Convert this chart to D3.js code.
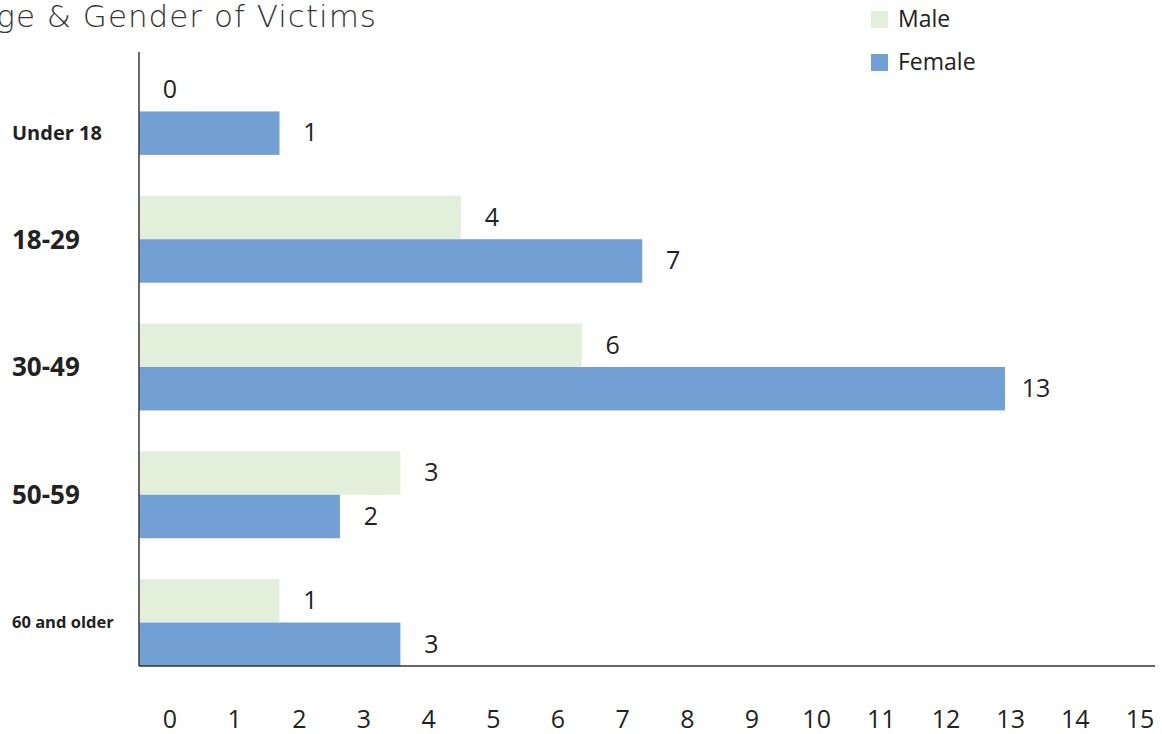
<!DOCTYPE html>
<html>
<head>
<meta charset="utf-8">
<script src="https://cdn.jsdelivr.net/npm/d3@7"></script>
<style>
  body { margin: 0; background: #fff; }
  text { font-family: "Open Sans", sans-serif; fill: #222; }
</style>
</head>
<body>
<div id="chart"></div>
<script>
/////////////////////////////// Data ///////////////////////////////
const title = "Age & Gender of Victims";
const categories = ["Under 18", "18-29", "30-49", "50-59", "60 and older"];
const series = ["Male", "Female"];
const male = [0, 4, 6, 3, 1];
const female = [1, 7, 13, 2, 3];
const ticks = d3.range(0, 16);

/////////////////////////////// Set-up ///////////////////////////////
const W = 1162, H = 734;
const x0 = 139; // value axis line
const colors = { Male: "#e2efda", Female: "#729fd4" };
// per-category label sizes, the source used mixed sizes
const catSize = { "Under 18": 20, "60 and older": 16.5 };

// tick labels sit on their own scale
const x = d3.scaleLinear()
  .domain([0, 15])
  .range([170, 1140]);

// bar ends in the source do not follow the tick labels, fitted separately
const xb = d3.scaleLinear()
  .domain([0, 13])
  .range([219, 1005]);

const y = d3.scaleBand()
  .domain(categories)
  .range([68, 666])
  .paddingInner(0.32)
  .paddingOuter(0);

const sub = d3.scaleBand()
  .domain(series)
  .range([0, y.bandwidth()]);

const rows = categories.map((c, i) => ({ cat: c, Male: male[i], Female: female[i] }));

const svg = d3.select("#chart").append("svg")
  .attr("width", W)
  .attr("height", H);

/////////////////////////////// Title ///////////////////////////////
svg.append("text")
  .attr("x", 377)
  .attr("y", 27)
  .attr("text-anchor", "end")
  .style("font-family", "'DejaVu Sans', sans-serif")
  .style("font-weight", 200)
  .style("font-size", "31px")
  .style("letter-spacing", "1px")
  .style("fill", "#333")
  .text(title);

/////////////////////////////// Bars ///////////////////////////////
const barW = v => v > 0 ? xb(v) - x0 : 0;

const grp = svg.selectAll("g.grp")
  .data(rows)
  .enter().append("g")
  .attr("class", "grp")
  .attr("transform", d => "translate(0," + y(d.cat) + ")");

series.forEach(s => {
  grp.append("rect")
    .attr("x", x0)
    .attr("y", sub(s))
    .attr("width", d => barW(d[s]))
    .attr("height", sub.bandwidth())
    .style("fill", colors[s]);

  grp.append("text")
    .attr("x", d => x0 + barW(d[s]) + 31)
    .attr("y", sub(s) + sub.bandwidth() / 2)
    .attr("dy", "0.33em")
    .attr("text-anchor", "middle")
    .style("font-size", "25px")
    .text(d => d[s]);
});

// category labels, centred on the bars that are drawn
grp.append("text")
  .attr("x", 12)
  .attr("y", d => {
    const shown = series.filter(s => d[s] > 0);
    return d3.mean(shown, s => sub(s) + sub.bandwidth() / 2);
  })
  .attr("dy", "0.36em")
  .style("font-weight", 700)
  .style("font-size", d => (catSize[d.cat] || 26) + "px")
  .text(d => d.cat);

/////////////////////////////// Axes ///////////////////////////////
svg.append("line")
  .attr("x1", x0).attr("x2", x0)
  .attr("y1", 52).attr("y2", 666)
  .style("stroke", "#444").style("stroke-width", 1.6);

svg.append("line")
  .attr("x1", x0).attr("x2", 1155)
  .attr("y1", 666).attr("y2", 666)
  .style("stroke", "#333").style("stroke-width", 1.5);

svg.append("g").selectAll("text")
  .data(ticks)
  .enter().append("text")
  .attr("x", d => x(d))
  .attr("y", 728)
  .attr("text-anchor", "middle")
  .style("font-size", "25px")
  .text(d => d);

/////////////////////////////// Legend ///////////////////////////////
const leg = svg.selectAll("g.leg")
  .data(series)
  .enter().append("g")
  .attr("class", "leg")
  .attr("transform", (d, i) => "translate(871," + (11 + i * 43) + ")");

leg.append("rect")
  .attr("width", 17).attr("height", 17)
  .style("fill", d => colors[d]);

leg.append("text")
  .attr("x", 27)
  .attr("y", 16)
  .style("font-size", "23px")
  .text(d => d);
</script>
</body>
</html>
